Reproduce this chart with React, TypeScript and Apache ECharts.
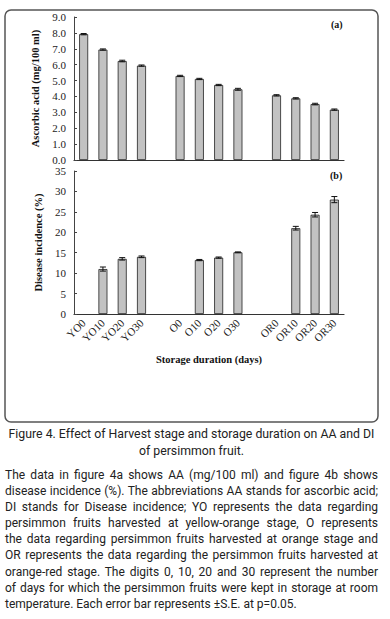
import React, { useEffect, useRef } from "react";
import * as echarts from "echarts";

const categories = ["YO0", "YO10", "YO20", "YO30", "", "O0", "O10", "O20", "O30", "", "OR0", "OR10", "OR20", "OR30"];
const ascorbicAcid = [7.92, 6.95, 6.23, 5.94, null, 5.29, 5.1, 4.72, 4.45, null, 4.07, 3.88, 3.52, 3.17];
const ascorbicErr = [0.04, 0.04, 0.05, 0.04, null, 0.04, 0.04, 0.04, 0.06, null, 0.04, 0.04, 0.05, 0.04];
const diseaseIncidence = [0, 11.0, 13.5, 14.0, null, 0, 13.2, 13.8, 15.1, null, 0, 21.0, 24.3, 28.0];
const diseaseErr = [0, 0.5, 0.3, 0.2, null, 0, 0.15, 0.15, 0.1, null, 0, 0.45, 0.55, 0.75];
const aTicks = [0, 9, 1];
const bTicks = [0, 35, 5];

const captionLines = [
  "Figure 4. Effect of Harvest stage and storage duration on AA and DI",
  "of persimmon fruit.",
];
const paragraphLines = [
  "The data in figure 4a shows AA (mg/100 ml) and figure 4b shows",
  "disease incidence (%). The abbreviations AA stands for ascorbic acid;",
  "DI stands for Disease incidence; YO represents the data regarding",
  "persimmon fruits harvested at yellow-orange stage, O represents",
  "the data regarding persimmon fruits harvested at orange stage and",
  "OR represents the data regarding the persimmon fruits harvested at",
  "orange-red stage. The digits 0, 10, 20 and 30 represent the number",
  "of days for which the persimmon fruits were kept in storage at room",
  "temperature. Each error bar represents ±S.E. at p=0.05.",
];

const serif = "'Liberation Serif', 'Times New Roman', serif";

function errData(vals: (number | null)[], errs: (number | null)[]) {
  const out: number[][] = [];
  vals.forEach((v, i) => {
    const e = errs[i];
    if (v != null && e != null && v > 0 && e > 0) out.push([i, v, e]);
  });
  return out;
}

const renderErr = (params: any, api: any) => {
  const x = api.value(0);
  const v = api.value(1);
  const e = api.value(2);
  const hi = api.coord([x, v + e]);
  const lo = api.coord([x, v - e]);
  const hw = 3;
  const st = { stroke: "#111", lineWidth: 1 };
  return {
    type: "group",
    children: [
      { type: "line", shape: { x1: hi[0], y1: hi[1], x2: lo[0], y2: lo[1] }, style: st },
      { type: "line", shape: { x1: hi[0] - hw, y1: hi[1], x2: hi[0] + hw, y2: hi[1] }, style: st },
      { type: "line", shape: { x1: lo[0] - hw, y1: lo[1], x2: lo[0] + hw, y2: lo[1] }, style: st },
    ],
  };
};

function Chart() {
  const ref = useRef<HTMLDivElement>(null);
  useEffect(() => {
    if (!ref.current) return;
    const chart = echarts.init(ref.current, null, { renderer: "svg" });
    const axisLabel = { fontFamily: serif, fontSize: 11, color: "#222" };
    const yAxisCommon = {
      type: "value",
      axisLine: { show: true, lineStyle: { color: "#444", width: 1 } },
      axisTick: { show: true, inside: true, length: 3, lineStyle: { color: "#444" } },
      splitLine: { show: false },
      nameLocation: "middle",
      nameGap: 28,
      nameTextStyle: { fontFamily: serif, fontSize: 10.5, fontWeight: "bold", color: "#111" },
    };
    const barStyle = { color: "#c2c2c2", borderColor: "#222", borderWidth: 0.8 };
    chart.setOption({
      animation: false,
      grid: [
        { left: 74, top: 17, width: 270, height: 143 },
        { left: 74, top: 171, width: 270, height: 143 },
      ],
      xAxis: [
        {
          type: "category",
          gridIndex: 0,
          data: categories,
          axisLine: { lineStyle: { color: "#333", width: 1.2 } },
          axisTick: { show: false },
          axisLabel: { show: false },
        },
        {
          type: "category",
          gridIndex: 1,
          data: categories,
          axisLine: { lineStyle: { color: "#333", width: 1.2 } },
          axisTick: { show: false },
          axisLabel: { ...axisLabel, rotate: 45, margin: 7, interval: 0 },
          name: "Storage duration (days)",
          nameLocation: "middle",
          nameGap: 40,
          nameTextStyle: { fontFamily: serif, fontSize: 10.5, fontWeight: "bold", color: "#111" },
        },
      ],
      yAxis: [
        {
          ...yAxisCommon,
          gridIndex: 0,
          min: aTicks[0],
          max: aTicks[1],
          interval: aTicks[2],
          name: "Ascorbic acid (mg/100 ml)",
          axisLabel: { ...axisLabel, margin: 8, formatter: (v: number) => v.toFixed(1) },
        },
        {
          ...yAxisCommon,
          gridIndex: 1,
          min: bTicks[0],
          max: bTicks[1],
          interval: bTicks[2],
          name: "Disease incidence (%)",
          axisLabel: { ...axisLabel, margin: 8 },
        },
      ],
      series: [
        {
          type: "bar",
          xAxisIndex: 0,
          yAxisIndex: 0,
          data: ascorbicAcid.map((v) => (v == null ? "-" : v)),
          barWidth: 9,
          itemStyle: barStyle,
        },
        {
          type: "custom",
          xAxisIndex: 0,
          yAxisIndex: 0,
          data: errData(ascorbicAcid, ascorbicErr),
          renderItem: renderErr,
          z: 5,
        },
        {
          type: "bar",
          xAxisIndex: 1,
          yAxisIndex: 1,
          data: diseaseIncidence.map((v) => (v == null || v === 0 ? "-" : v)),
          barWidth: 9,
          itemStyle: barStyle,
        },
        {
          type: "custom",
          xAxisIndex: 1,
          yAxisIndex: 1,
          data: errData(diseaseIncidence, diseaseErr),
          renderItem: renderErr,
          z: 5,
        },
      ],
      graphic: [
        {
          type: "rect",
          shape: { x: 5, y: 10, width: 373, height: 412, r: 6 },
          style: { fill: "none", stroke: "#555", lineWidth: 1.5 },
          z: -1,
        },
        {
          type: "text",
          x: 331,
          y: 19,
          style: { text: "(a)", font: `bold 10px ${serif}`, fill: "#111" },
        },
        {
          type: "text",
          x: 330,
          y: 170,
          style: { text: "(b)", font: `bold 10px ${serif}`, fill: "#111" },
        },
      ],
    });
    return () => chart.dispose();
  }, []);
  return <div ref={ref} style={{ position: "absolute", left: 0, top: 0, width: 390, height: 430 }} />;
}

export default function App() {
  const textFont = "Roboto, 'Noto Sans', sans-serif";
  return (
    <div style={{ position: "absolute", left: 0, top: 0, width: 390, height: 619, background: "#fff", overflow: "hidden" }}>
      <Chart />
      <div
        style={{
          position: "absolute",
          left: 5,
          top: 426,
          width: 373,
          fontFamily: textFont,
          fontSize: 12.3,
          lineHeight: "17px",
          color: "#222",
          textAlign: "center",
          whiteSpace: "nowrap",
        }}
      >
        {captionLines.map((l, i) => (
          <div key={i}>{l}</div>
        ))}
      </div>
      <div
        style={{
          position: "absolute",
          left: 5,
          top: 467,
          width: 373,
          fontFamily: textFont,
          fontSize: 12,
          lineHeight: "16.1px",
          color: "#222",
        }}
      >
        {paragraphLines.map((l, i) => (
          <div
            key={i}
            style={{
              textAlign: i === paragraphLines.length - 1 ? "left" : "justify",
              textAlignLast: i === paragraphLines.length - 1 ? "left" : "justify",
            }}
          >
            {l}
          </div>
        ))}
      </div>
    </div>
  );
}
